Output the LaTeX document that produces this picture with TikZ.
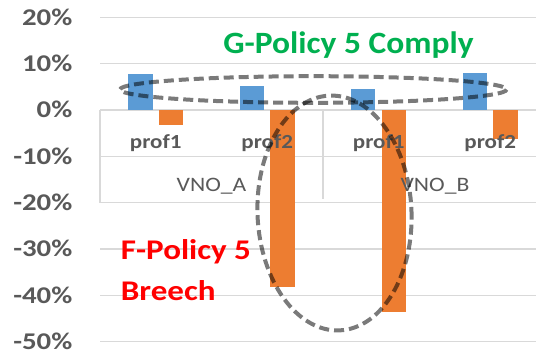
\documentclass[tikz,border=0pt]{standalone}
\usepackage{fontspec}
\setmainfont{Carlito}
\newfontfamily\fAxis{Carlito}[FakeStretch=1.2]
\newfontfamily\fCat{Carlito}[FakeStretch=1.15]
\newfontfamily\fTitle{Carlito}[FakeStretch=1.08]
\newfontfamily\fRed{Carlito}[FakeStretch=1.16]
\definecolor{gridc}{HTML}{D9D9D9}
\definecolor{txtc}{HTML}{595959}
\definecolor{barblue}{HTML}{5B9BD5}
\definecolor{barorange}{HTML}{ED7D31}
\definecolor{gpol}{HTML}{00B050}
\definecolor{fpol}{HTML}{FF0000}
\tikzset{
  gridline/.style={draw=gridc, line width=1.4pt},
  tableline/.style={draw=gridc, line width=1.4pt},
  bluebar/.style={fill=barblue, draw=none},
  orangebar/.style={fill=barorange, draw=none},
  axislbl/.style={anchor=base east, inner sep=0pt, text=txtc, font=\fAxis\bfseries\fontsize{24}{24}\selectfont},
  proflbl/.style={anchor=base, inner sep=0pt, text=txtc, font=\fCat\bfseries\fontsize{20}{20}\selectfont},
  vnolbl/.style={anchor=base, inner sep=0pt, text=txtc, font=\fCat\fontsize{20.5}{20.5}\selectfont},
  dashring/.style={draw=black, draw opacity=0.52, line width=4pt, dash pattern=on 10pt off 5pt}
}
\begin{document}
\begin{tikzpicture}[x=1pt, y=-1pt]
\useasboundingbox (0,0) rectangle (536,358);
\fill[white] (0,0) rectangle (536,358);
% gridlines
\foreach \k in {0,...,7} {
  \draw[gridline] (100,{17.5+46.3*\k}) -- (536,{17.5+46.3*\k});
}
% category table lines
\draw[tableline] (100,110.1) -- (100,202.7);
\draw[tableline] (323,110.1) -- (323,199);
% axis labels
\foreach \v [count=\k from 0] in {20\%,10\%,0\%,-10\%,-20\%,-30\%,-40\%,-50\%} {
  \node[axislbl] (ax\k) at (72.5,{17.5+46.3*\k+7.8}) {\v};
}
% bars
\fill[bluebar]   (128.25,110.1) rectangle (152.75,74);
\fill[orangebar] (158.75,110.1) rectangle (183.25,125);
\fill[bluebar]   (239.75,110.1) rectangle (264.25,86);
\fill[orangebar] (270.25,110.1) rectangle (294.75,287);
\fill[bluebar]   (350.75,110.1) rectangle (375.25,89.3);
\fill[orangebar] (381.75,110.1) rectangle (406.25,312.3);
\fill[bluebar]   (462.75,110.1) rectangle (487.25,73.3);
\fill[orangebar] (493.25,110.1) rectangle (517.75,139.3);
% category labels
\node[proflbl] (p1) at (155.75,148.3) {prof1};
\node[proflbl] (p2) at (267.25,148.3) {prof2};
\node[proflbl] (p3) at (378.75,148.3) {prof1};
\node[proflbl] (p4) at (490.25,148.3) {prof2};
\node[vnolbl] (va) at (211.5,191.7) {VNO\_A};
\node[vnolbl] (vb) at (435,191.7) {VNO\_B};
% annotations
\node[anchor=base, inner sep=0pt, text=gpol, font=\fTitle\bfseries\fontsize{31}{31}\selectfont] (gtitle) at (348.5,53.3) {G-Policy 5 Comply};
\node[anchor=base west, inner sep=0pt, text=fpol, font=\fRed\bfseries\fontsize{28.5}{28.5}\selectfont] (fl1) at (120.7,259.7) {F-Policy 5};
\node[anchor=base west, inner sep=0pt, text=fpol, font=\fRed\bfseries\fontsize{28.5}{28.5}\selectfont] (fl2) at (120.7,300.7) {Breech};
% dashed ellipses
\draw[dashring] (313.3,89.5) ellipse [x radius=193.3, y radius=13.3];
\begin{scope}[shift={(334.5,213)}, rotate=2.5]
\draw[dashring] (0,0) ellipse [x radius=77, y radius=117.5];
\end{scope}
\end{tikzpicture}
\end{document}
